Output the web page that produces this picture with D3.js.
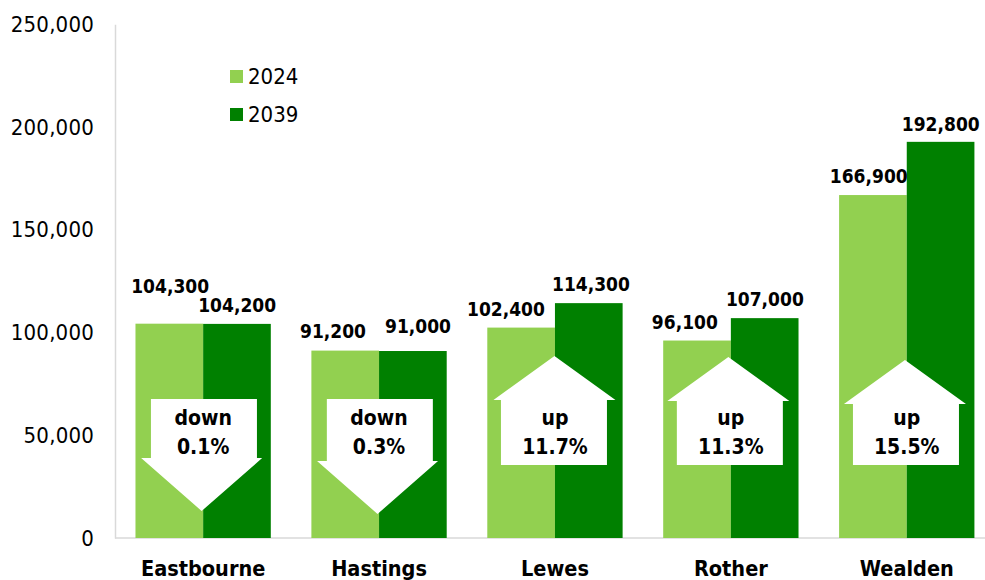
<!DOCTYPE html>
<html><head><meta charset="utf-8">
<script src="https://cdn.jsdelivr.net/npm/d3@7"></script>
<style>
html,body{margin:0;padding:0;background:#fff}
svg{display:block}
text{font-family:"DejaVu Sans";font-stretch:condensed;fill:#000}
</style></head><body><div id="c"></div>
<script>
const categories=["Eastbourne","Hastings","Lewes","Rother","Wealden"];
const years=["2024","2039"];
const values2024=[104300,91200,102400,96100,166900];
const values2039=[104200,91000,114300,107000,192800];
const directions=["down","down","up","up","up"];
const changes=["0.1%","0.3%","11.7%","11.3%","15.5%"];
const yTicks=[0,50000,100000,150000,200000,250000];
const colors=["#92D050","#008000"];
const labelPos2024=[[-33,-31],[-46,-13],[-49,-12],[-46,-12],[-38,-12]];
const labelPos2039=[[34,-12],[39,-18],[36,-12],[34,-12],[34,-11]];
const headDx=[-1.5,-1.5,-0.5,-2.5,-1.8];
const bodyDx=[0.8,0.8,-1,-1,-0.8];
const apexY=[511,514,356,357,360];

const W=985,H=580;
const svg=d3.select("#c").append("svg").attr("width",W).attr("height",H);
const x=d3.scaleBand().domain(categories).range([115.2,994.7]).paddingInner(0.2307).paddingOuter(0.1153);
const sub=d3.scaleBand().domain(years).range([0,x.bandwidth()]);
const y=d3.scaleLinear().domain([0,250000]).range([538,24.3]);
const fmt=d3.format(",");

const yAxis=svg.append("g").attr("transform","translate(115,0)")
  .call(d3.axisLeft(y).tickValues(yTicks).tickFormat(fmt).tickSize(0).tickPadding(21));
yAxis.select(".domain").attr("stroke","#d9d9d9").attr("stroke-width",1.5);
yAxis.selectAll("text").attr("font-size",22).attr("letter-spacing","0.2px").attr("dy","0.32em");
svg.append("line").attr("x1",115).attr("x2",W).attr("y1",y(0)).attr("y2",y(0)).attr("stroke","#d9d9d9").attr("stroke-width",1.5);

const xAxis=svg.append("g").attr("transform","translate(0,538)")
  .call(d3.axisBottom(x).tickSize(0).tickPadding(21));
xAxis.select(".domain").remove();
xAxis.selectAll("text").attr("font-size",21.5).attr("font-weight","bold").attr("dy","0.78em");

const series=[values2024,values2039];
series.forEach((vals,s)=>{
  svg.append("g").selectAll("rect").data(vals).join("rect")
    .attr("x",(d,i)=>x(categories[i])+sub(years[s]))
    .attr("y",d=>y(d))
    .attr("width",sub.bandwidth())
    .attr("height",d=>y(0)-y(d))
    .attr("fill",colors[s]);
});

const center=c=>x(c)+x.bandwidth()/2;
[[values2024,labelPos2024],[values2039,labelPos2039]].forEach(([vals,pos])=>{
  svg.append("g").selectAll("text").data(vals).join("text")
    .attr("x",(d,i)=>center(categories[i])+pos[i][0])
    .attr("y",(d,i)=>y(d)+pos[i][1])
    .attr("text-anchor","middle").attr("font-size",19).attr("font-weight","bold")
    .text(fmt);
});

const arrowPath=(i)=>{
  const c=center(categories[i]), h=c+headDx[i], b=c+bodyDx[i], a=apexY[i];
  const p=d3.path();
  if(directions[i]==="down"){
    p.moveTo(b-53,399);p.lineTo(b+53,399);p.lineTo(b+53,a-53);p.lineTo(h+60.5,a-53);
    p.lineTo(h,a);p.lineTo(h-60.5,a-53);p.lineTo(b-53,a-53);
  }else{
    p.moveTo(h,a);p.lineTo(h+61,a+44);p.lineTo(b+53,a+44);p.lineTo(b+53,465);
    p.lineTo(b-53,465);p.lineTo(b-53,a+44);p.lineTo(h-61,a+44);
  }
  p.closePath();return p.toString();
};
const g=svg.append("g");
g.selectAll("path").data(categories).join("path").attr("d",(d,i)=>arrowPath(i)).attr("fill","#fff");
g.selectAll("text.dir").data(directions).join("text").attr("class","dir")
  .attr("x",(d,i)=>center(categories[i])).attr("y",425)
  .attr("text-anchor","middle").attr("font-size",21).attr("font-weight","bold").text(d=>d);
g.selectAll("text.chg").data(changes).join("text").attr("class","chg")
  .attr("x",(d,i)=>center(categories[i])).attr("y",454)
  .attr("text-anchor","middle").attr("font-size",21).attr("font-weight","bold").text(d=>d);

const leg=svg.append("g").selectAll("g").data(years).join("g")
  .attr("transform",(d,i)=>`translate(230,${70+i*38})`);
leg.append("rect").attr("width",13).attr("height",13).attr("fill",(d,i)=>colors[i]);
leg.append("text").attr("x",18).attr("y",14).attr("font-size",22).text(d=>d);
</script></body></html>
